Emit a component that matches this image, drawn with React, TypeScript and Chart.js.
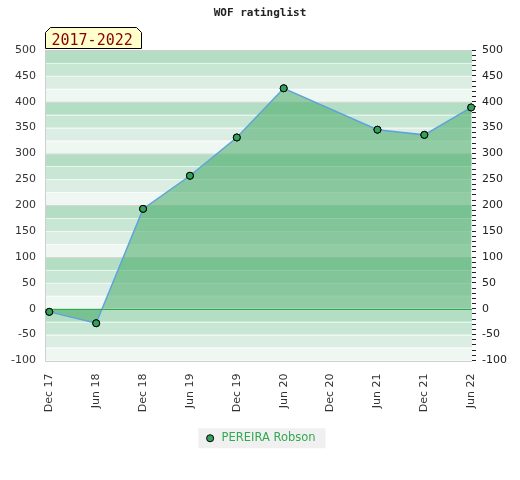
import React, { useEffect, useRef } from "react";
import { Chart, registerables } from "chart.js";

Chart.register(...registerables);

const xLabels = ["Dec 17", "Jun 18", "Dec 18", "Jun 19", "Dec 19", "Jun 20", "Dec 20", "Jun 21", "Dec 21", "Jun 22"];
const ratingValues: (number | null)[] = [-6, -28, 193, 257, 331, 426, null, 346, 336, 389];
const seriesName = "PEREIRA Robson";
const chartTitle = "WOF ratinglist";
const periodLabel = "2017-2022";
const yMin = -100;
const yMax = 500;
const monthStep = 6;

const bandColors = ["#b3dec4", "#c8e6d4", "#dceee3", "#eff7f2"];

const bgPlugin = {
  id: "bgBands",
  beforeDraw(chart: any) {
    const { ctx, chartArea } = chart;
    const y = chart.scales.y;
    const { left, right } = chartArea;
    ctx.save();
    ctx.fillStyle = "#ffffff";
    ctx.fillRect(0, 0, chart.width, chart.height);
    for (let v = yMax; v > yMin; v -= 25) {
      const idx = Math.round(((yMax - v) % 100) / 25);
      const top = y.getPixelForValue(v);
      const bot = y.getPixelForValue(v - 25);
      ctx.fillStyle = bandColors[idx];
      ctx.fillRect(left, top, right - left, bot - top);
    }
    for (let v = yMax - 25; v > yMin; v -= 25) {
      if (v === 0) continue;
      const py = Math.round(y.getPixelForValue(v)) + 0.5;
      ctx.strokeStyle = v % 100 === 0 ? "#d6d6d6" : "rgba(255,255,255,0.55)";
      ctx.lineWidth = 1;
      ctx.beginPath();
      ctx.moveTo(left, py);
      ctx.lineTo(right, py);
      ctx.stroke();
    }
    // frame
    ctx.strokeStyle = "#cfcfcf";
    ctx.lineWidth = 1;
    const t = Math.round(chartArea.top) + 0.5;
    const b = Math.round(chartArea.bottom) + 0.5;
    const l = Math.round(left) + 0.5;
    ctx.beginPath();
    ctx.moveTo(right, t);
    ctx.lineTo(l, t);
    ctx.lineTo(l, b);
    ctx.lineTo(right, b);
    ctx.stroke();
    // legend background
    const lg = chart.legend;
    if (lg && lg.legendHitBoxes && lg.legendHitBoxes.length) {
      const hb = lg.legendHitBoxes[0];
      ctx.fillStyle = "#f0f0f0";
      ctx.fillRect(hb.left - 6, hb.top + hb.height / 2 - 10, hb.width + 16, 20);
    }
    ctx.restore();
  },
  afterDatasetsDraw(chart: any) {
    const { ctx, chartArea } = chart;
    const py = Math.round(chart.scales.y.getPixelForValue(0)) + 0.5;
    ctx.save();
    ctx.strokeStyle = "#33a853";
    ctx.lineWidth = 1;
    ctx.setLineDash([]);
    ctx.beginPath();
    ctx.moveTo(chartArea.left, py);
    ctx.lineTo(chartArea.right, py);
    ctx.stroke();
    ctx.restore();
    // keep markers above the zero line
    const meta = chart.getDatasetMeta(0);
    meta.data.forEach((pt: any) => pt.draw(ctx, chartArea));
  },
  afterDraw(chart: any) {
    const { ctx, chartArea } = chart;
    const l = Math.round(chartArea.left) + 0.5;
    const r = l + 96;
    const top = 27.5;
    const bot = Math.round(chartArea.top) - 1.5;
    const c = 5;
    ctx.save();
    ctx.beginPath();
    ctx.moveTo(l, bot);
    ctx.lineTo(l, top + c);
    ctx.lineTo(l + c, top);
    ctx.lineTo(r - c, top);
    ctx.lineTo(r, top + c);
    ctx.lineTo(r, bot);
    ctx.closePath();
    ctx.fillStyle = "#ffffcc";
    ctx.fill();
    ctx.strokeStyle = "#000000";
    ctx.lineWidth = 1;
    ctx.stroke();
    ctx.fillStyle = "#8b0000";
    ctx.font = "15px 'DejaVu Sans Mono'";
    ctx.textBaseline = "alphabetic";
    ctx.textAlign = "left";
    ctx.fillText(periodLabel, l + 6, 45);
    ctx.restore();
  },
};

export default function App() {
  const ref = useRef<HTMLCanvasElement | null>(null);
  useEffect(() => {
    if (!ref.current) return;
    const points = ratingValues
      .map((v, i) => (v === null ? null : { x: i * monthStep, y: v }))
      .filter((p) => p !== null) as { x: number; y: number }[];
    const tickFont = { family: "'DejaVu Sans'", size: 11 };
    const chart = new Chart(ref.current, {
      type: "line",
      data: {
        datasets: [
          {
            label: seriesName,
            data: points,
            borderColor: "#5ea3db",
            borderWidth: 1.5,
            backgroundColor: "rgba(78,172,108,0.58)",
            fill: "origin",
            pointRadius: 3.5,
            pointBackgroundColor: "#35a05a",
            pointBorderColor: "#000000",
            pointBorderWidth: 1,
            tension: 0,
          },
        ],
      },
      plugins: [bgPlugin],
      options: {
        responsive: false,
        animation: false,
        devicePixelRatio: 1,
        layout: { padding: { top: 0, bottom: 26, left: 0, right: 0 } },
        scales: {
          x: {
            type: "linear",
            min: -0.55,
            max: 54.1,
            afterBuildTicks: (scale: any) => {
              scale.ticks = xLabels.map((_, i) => ({ value: i * monthStep }));
            },
            afterFit: (scale: any) => {
              scale.height = 62;
            },
            grid: { display: true, drawOnChartArea: false, color: "rgba(0,0,0,0)", tickLength: 0 },
            border: { display: false },
            ticks: {
              autoSkip: false,
              maxRotation: 90,
              minRotation: 90,
              padding: 13,
              color: "#333333",
              font: tickFont,
              callback: (v: any) => {
                const i = Math.round(Number(v) / monthStep);
                return xLabels[i] ?? "";
              },
            },
          },
          y: {
            type: "linear",
            position: "left",
            min: yMin,
            max: yMax,
            afterFit: (scale: any) => {
              scale.width = 45;
            },
            grid: { display: false, drawTicks: false },
            border: { display: false },
            ticks: { stepSize: 50, padding: 9, color: "#333333", font: tickFont },
          },
          y2: {
            type: "linear",
            position: "right",
            min: yMin,
            max: yMax,
            afterFit: (scale: any) => {
              scale.width = 48;
            },
            grid: { display: true, drawOnChartArea: false, drawTicks: true, tickLength: 4, color: "#222222" },
            border: { display: false },
            ticks: {
              stepSize: 10,
              autoSkip: false,
              padding: 6,
              color: "#222222",
              font: tickFont,
              callback: (v: any) => (Number(v) % 50 === 0 ? String(v) : ""),
            },
          },
        },
        plugins: {
          title: {
            display: true,
            text: chartTitle,
            color: "#222222",
            font: { family: "'DejaVu Sans Mono'", size: 11, weight: "bold" },
            padding: { top: 7, bottom: 29.8 },
          },
          legend: {
            display: true,
            position: "bottom",
            labels: {
              usePointStyle: true,
              pointStyle: "circle",
              boxWidth: 12,
              boxHeight: 5,
              padding: 10,
              color: "#34a853",
              font: { family: "'DejaVu Sans'", size: 11.5 },
            },
          },
          tooltip: { enabled: false },
        },
      },
    } as any);
    return () => chart.destroy();
  }, []);
  return (
    <div style={{ position: "absolute", left: 0, top: 0, width: 520, height: 480 }}>
      <canvas ref={ref} width={520} height={480} />
    </div>
  );
}
